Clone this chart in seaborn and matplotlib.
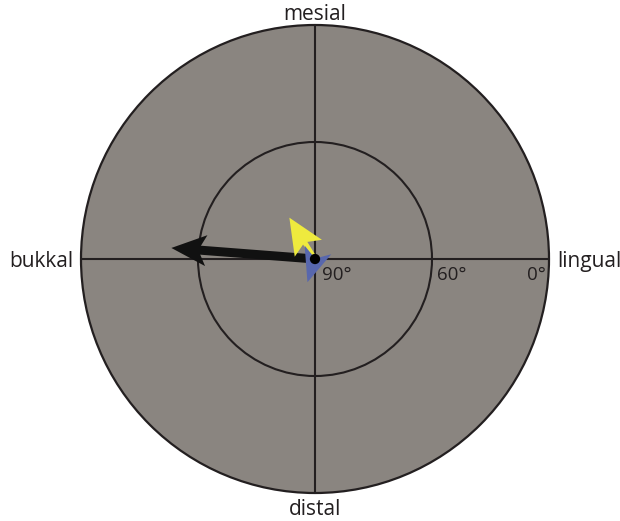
import numpy as np
import pandas as pd
import matplotlib
matplotlib.use("Agg")
import matplotlib.pyplot as plt
from matplotlib.patches import Circle, Polygon
import seaborn as sns

# Tilt vectors: azimuth (deg, counter-clockwise from lingual) and tilt (deg, 90 = centre)
vector_names = ["black", "yellow", "blue"]
azimuth_deg = [175.6, 121.8, 252.0]
tilt_deg = [52.0, 78.0, 84.0]
vector_colors = ["#111111", "#eeea3e", "#5867ad"]

# Direction labels and tilt rings
direction_labels = ["mesial", "distal", "bukkal", "lingual"]
ring_ticks = [90, 60, 0]
ring_tick_labels = ["90°", "60°", "0°"]

sns.set_theme(style="white")
plt.rcParams["font.family"] = ["Open Sans", "DejaVu Sans"]

W, H = 620, 521
S = 234.0              # pixels per unit radius
cx, cy = 315.0, 259.0  # centre in pixels (from top-left)

fig = plt.figure(figsize=(W / 100, H / 100), dpi=100)
ax = fig.add_axes([0, 0, 1, 1])
ax.set_xlim(-cx / S, (W - cx) / S)
ax.set_ylim(-(H - cy) / S, cy / S)
ax.axis("off")

dark = "#231f20"
grey = "#8a8580"

# plotting disc, tilt ring and cross hairs
ax.add_patch(Circle((0, 0), 1.0, fc=grey, ec=dark, lw=1.6, zorder=1))
r_ring = np.cos(np.radians(60))
ax.add_patch(Circle((0, 0), r_ring, fc="none", ec=dark, lw=1.5, zorder=2))
ax.plot([-1, 1], [0, 0], color=dark, lw=1.5, zorder=2)
ax.plot([0, 0], [-1, 1], color=dark, lw=1.5, zorder=2)

px = 1.0 / S
styles = {
    "black": dict(shaft=9 * px, head_len=35 * px, notch=27 * px, head_w=31 * px),
    "yellow": dict(shaft=5 * px, head_len=36 * px, notch=29 * px, head_w=32 * px),
    "blue": dict(shaft=4 * px, head_len=34 * px, notch=25 * px, head_w=28 * px),
}


def draw_vector(ax, az, tilt, color, shaft, head_len, notch, head_w, z):
    r = np.cos(np.radians(tilt))
    u = np.array([np.cos(np.radians(az)), np.sin(np.radians(az))])
    p = np.array([-u[1], u[0]])
    tip = r * u
    wing_base = tip - head_len * u
    notch_pt = tip - notch * u
    head = [tip, wing_base + p * head_w / 2, notch_pt, wing_base - p * head_w / 2]
    ax.add_patch(Polygon(head, closed=True, fc=color, ec="none", zorder=z))
    shaft_len = r - notch
    if shaft_len > 0:
        a = np.zeros(2)
        b = notch_pt + u * 0.5 * px
        quad = [a + p * shaft / 2, b + p * shaft / 2, b - p * shaft / 2, a - p * shaft / 2]
        ax.add_patch(Polygon(quad, closed=True, fc=color, ec="none", zorder=z))


for i, (name, az, tilt, col) in enumerate(zip(vector_names, azimuth_deg, tilt_deg, vector_colors)):
    draw_vector(ax, az, tilt, col, z=3 + i, **styles[name])

# centre point
centre = pd.DataFrame({"x": [0.0], "y": [0.0]})
sns.scatterplot(data=centre, x="x", y="y", s=55, color="#000000", edgecolor="none",
                ax=ax, zorder=10, legend=False)

# tilt ring labels
fs_tick = 13.5
base_y = -21 * px
ax.text(np.cos(np.radians(ring_ticks[0])) + 7 * px, base_y, ring_tick_labels[0],
        ha="left", va="baseline", fontsize=fs_tick, color=dark, zorder=11)
ax.text(np.cos(np.radians(ring_ticks[1])) + 5 * px, base_y, ring_tick_labels[1],
        ha="left", va="baseline", fontsize=fs_tick, color=dark, zorder=11)
ax.text(np.cos(np.radians(ring_ticks[2])) - 3 * px, base_y, ring_tick_labels[2],
        ha="right", va="baseline", fontsize=fs_tick, color=dark, zorder=11)

# direction labels
fs_dir = 15
ax.text(0, 1.0 + 5 * px, direction_labels[0], ha="center", va="baseline", fontsize=fs_dir, color=dark)
ax.text(0, -1.0 - 22 * px, direction_labels[1], ha="center", va="baseline", fontsize=fs_dir, color=dark)
ax.text(-1.0 - 8 * px, -8 * px, direction_labels[2], ha="right", va="baseline", fontsize=fs_dir, color=dark)
ax.text(1.0 + 8 * px, -8 * px, direction_labels[3], ha="left", va="baseline", fontsize=fs_dir, color=dark)

fig.savefig("out.png", dpi=100, facecolor="white")
